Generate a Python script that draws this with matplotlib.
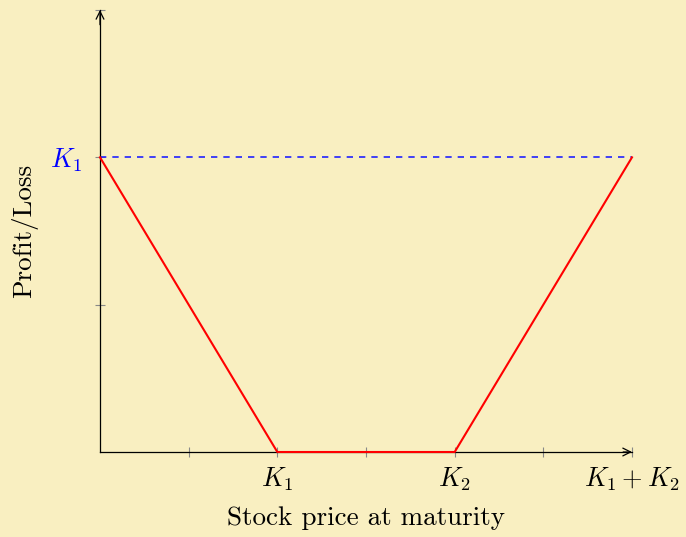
import numpy as np
import matplotlib.pyplot as plt

plt.rcParams['font.family'] = 'serif'
plt.rcParams['font.serif'] = ['cmr10']
plt.rcParams['mathtext.fontset'] = 'cm'
plt.rcParams['axes.formatter.use_mathtext'] = True

# strike prices on the axis scale
K1 = 2
K2 = 4

# payoff profile of the position
price = [0, K1, K2, K1 + K2]
profit = [K1, 0, 0, K1]

x_ticks = [1, 2, 3, 4, 5, 6]
x_tick_labels = ['', r'$K_1$', '', r'$K_2$', '', r'$K_1 + K_2$']
y_ticks = [1, 2, 3]
y_tick_labels = ['', r'$K_1$', '']

bg = '#f9efc1'

fig = plt.figure(figsize=(6.86, 5.37), dpi=100, facecolor=bg)
ax = fig.add_axes([100 / 686, 85 / 537, 532 / 686, 442 / 537])
ax.set_facecolor(bg)

ax.plot(price, profit, color='red', lw=1.5, solid_joinstyle='miter',
        clip_on=False, zorder=4)
ax.plot([0, K1 + K2], [K1, K1], color='#2222ff', lw=1.2, dashes=(3.8, 3.6),
        zorder=2)

ax.set_xlim(0, 6)
ax.set_ylim(0, 3)

for s in ['top', 'right']:
    ax.spines[s].set_visible(False)
for s in ['left', 'bottom']:
    ax.spines[s].set_linewidth(0.9)

# arrow heads at the end of each axis
arrow = dict(arrowstyle='->', color='black', lw=0.9, shrinkA=0, shrinkB=0,
             mutation_scale=14)
ax.annotate('', xy=(6, 0), xytext=(5.9, 0), arrowprops=arrow,
            annotation_clip=False)
ax.annotate('', xy=(0, 3), xytext=(0, 2.9), arrowprops=arrow,
            annotation_clip=False)

ax.set_xticks(x_ticks)
ax.set_xticklabels(x_tick_labels, fontsize=19)
ax.set_yticks(y_ticks)
ax.set_yticklabels(y_tick_labels, fontsize=19)
for lab in ax.get_yticklabels():
    lab.set_color('blue')
ax.tick_params(direction='inout', length=7, width=0.8, color='#888888')
ax.tick_params(axis='x', pad=6)
ax.tick_params(axis='y', pad=9)

ax.set_xlabel('Stock price at maturity', fontsize=19.5, labelpad=10)
ax.set_ylabel('Profit/Loss', fontsize=19.5, labelpad=9)

fig.savefig('out.png', dpi=100, facecolor=bg)
